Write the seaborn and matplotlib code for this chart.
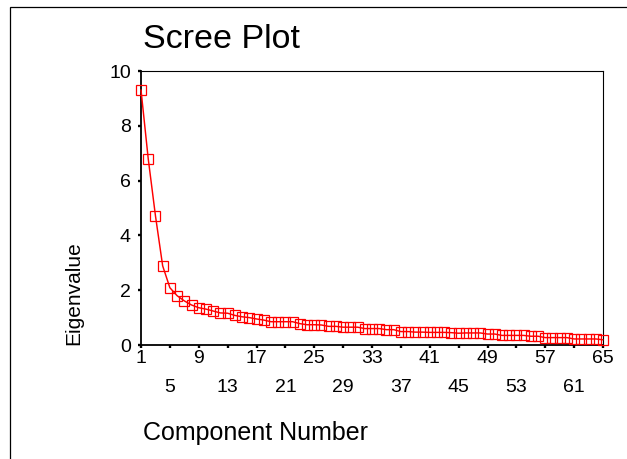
import matplotlib
matplotlib.use("Agg")
import matplotlib.pyplot as plt
import seaborn as sns
import pandas as pd
from matplotlib.patches import Rectangle

# ---- data ----
components = list(range(1, 66))
eigenvalues = [
    9.31, 6.80, 4.72, 2.89, 2.09, 1.80, 1.61, 1.46, 1.36, 1.31,
    1.24, 1.17, 1.16, 1.08, 1.03, 1.00, 0.95, 0.91, 0.85, 0.85,
    0.85, 0.85, 0.78, 0.74, 0.74, 0.73, 0.68, 0.68, 0.65, 0.65,
    0.65, 0.60, 0.60, 0.60, 0.56, 0.56, 0.49, 0.49, 0.47, 0.47,
    0.46, 0.46, 0.46, 0.45, 0.43, 0.44, 0.44, 0.44, 0.40, 0.40,
    0.35, 0.35, 0.35, 0.35, 0.32, 0.32, 0.27, 0.27, 0.27, 0.27,
    0.22, 0.22, 0.22, 0.22, 0.19,
]
major_ticks = [1, 9, 17, 25, 33, 41, 49, 57, 65]
minor_ticks = [5, 13, 21, 29, 37, 45, 53, 61]
y_ticks = [0, 2, 4, 6, 8, 10]
title_text = "Scree Plot"
x_label = "Component Number"
y_label = "Eigenvalue"

df = pd.DataFrame({"Component": components, "Eigenvalue": eigenvalues})

sns.set_theme(style="white")
plt.rcParams["font.family"] = ["Liberation Sans", "DejaVu Sans"]

W, H = 627, 459
fig = plt.figure(figsize=(W / 100, H / 100), dpi=100)
ax = fig.add_axes([141 / W, 1 - 345 / H, (603 - 141) / W, (345 - 71) / H])

sns.lineplot(data=df, x="Component", y="Eigenvalue", ax=ax, color="#ff0000",
             linewidth=1.05, marker="s", markersize=7.5,
             markerfacecolor="none", markeredgecolor="#ff0000",
             markeredgewidth=0.9, clip_on=False, zorder=5)
for ln in ax.lines:
    ln.set_markerfacecolor("none")
    ln.set_markeredgecolor("#ff0000")
    ln.set_clip_on(False)

ax.set_xlim(1, 65)
ax.set_ylim(0, 10)
ax.set_xlabel("")
ax.set_ylabel("")

ax.set_xticks(major_ticks)
ax.set_xticklabels([str(t) for t in major_ticks])
ax.set_xticks(minor_ticks, minor=True)
ax.set_xticklabels([str(t) for t in minor_ticks], minor=True)
ax.set_yticks(y_ticks)
ax.set_yticklabels([str(t) for t in y_ticks])

fs = 14
ax.tick_params(axis="x", which="major", direction="out", length=2.2, width=1.7,
               pad=1.5, labelsize=fs, colors="black", bottom=True)
ax.tick_params(axis="x", which="minor", direction="out", length=2.2, width=1.7,
               pad=22, labelsize=fs, colors="black", bottom=True)
ax.tick_params(axis="y", direction="out", length=2.2, width=1.7, pad=5,
               labelsize=fs, colors="black", left=True)

for side in ["left", "bottom"]:
    ax.spines[side].set_linewidth(1.3)
    ax.spines[side].set_color("black")
for side in ["top", "right"]:
    ax.spines[side].set_linewidth(0.8)
    ax.spines[side].set_color("black")

fig.text(143 / W, 1 - 48 / H, title_text, fontsize=24.5, ha="left", va="baseline",
         color="black")
fig.text(143 / W, 1 - 440 / H, x_label, fontsize=18, ha="left", va="baseline",
         color="black")
fig.text(74 / W, 1 - 293 / H, y_label, fontsize=15, rotation=90, ha="center",
         va="center", color="black")

# outer frame (cropped on the right and bottom)
fig.patches.append(Rectangle((10 / W, -0.2), 1.5, 1.2 - 7 / H, transform=fig.transFigure,
                             fill=False, edgecolor="black", linewidth=0.9))

fig.savefig("out.png", dpi=100, facecolor="white")
